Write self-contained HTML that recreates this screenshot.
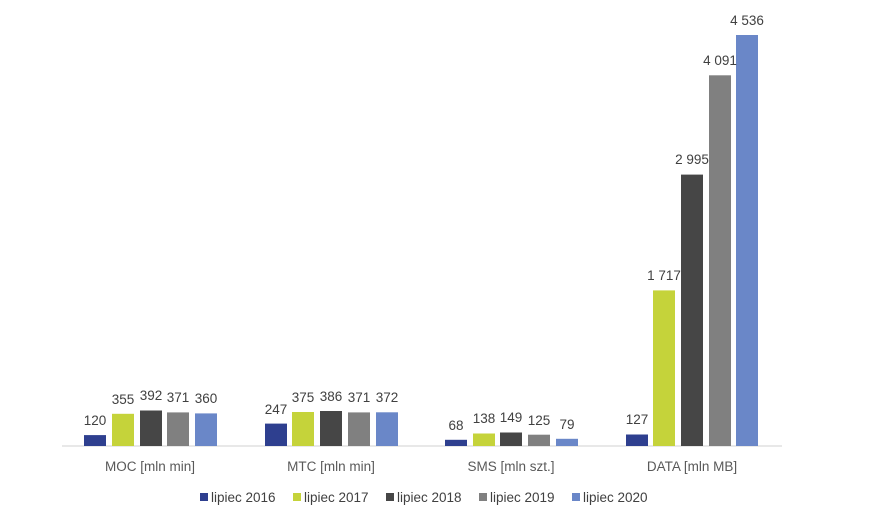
<!DOCTYPE html>
<html><head><meta charset="utf-8"><style>
html,body{margin:0;padding:0;background:#fff;}
svg{display:block;font-family:"Liberation Sans",sans-serif;}
.v{font-size:13.5px;fill:#404040;text-anchor:middle;}
.c{font-size:13.5px;fill:#595959;text-anchor:middle;}
.l{font-size:13.5px;fill:#404040;}
</style></head><body>
<svg width="870" height="524" viewBox="0 0 870 524">
<line x1="62" y1="446" x2="782" y2="446" stroke="#d0d0d0" stroke-width="1"/>
<g id="bars">
<rect x="84" y="435.1" width="22" height="10.9" fill="#2e3f8f"/>
<rect x="112" y="413.8" width="22" height="32.2" fill="#c5d33a"/>
<rect x="140" y="410.5" width="22" height="35.5" fill="#464646"/>
<rect x="167" y="412.4" width="22" height="33.6" fill="#808080"/>
<rect x="195" y="413.4" width="22" height="32.6" fill="#6a87c8"/>
<rect x="265" y="423.6" width="22" height="22.4" fill="#2e3f8f"/>
<rect x="292" y="412" width="22" height="34" fill="#c5d33a"/>
<rect x="320" y="411" width="22" height="35" fill="#464646"/>
<rect x="348" y="412.4" width="22" height="33.6" fill="#808080"/>
<rect x="376" y="412.3" width="22" height="33.7" fill="#6a87c8"/>
<rect x="445" y="439.8" width="22" height="6.2" fill="#2e3f8f"/>
<rect x="473" y="433.5" width="22" height="12.5" fill="#c5d33a"/>
<rect x="500" y="432.5" width="22" height="13.5" fill="#464646"/>
<rect x="528" y="434.7" width="22" height="11.3" fill="#808080"/>
<rect x="556" y="438.8" width="22" height="7.2" fill="#6a87c8"/>
<rect x="626" y="434.5" width="22" height="11.5" fill="#2e3f8f"/>
<rect x="653" y="290.4" width="22" height="155.6" fill="#c5d33a"/>
<rect x="681" y="174.6" width="22" height="271.4" fill="#464646"/>
<rect x="709" y="75.3" width="22" height="370.7" fill="#808080"/>
<rect x="736" y="35" width="22" height="411" fill="#6a87c8"/>
</g>
<g class="v">
<text x="95" y="425">120</text><text x="123" y="404">355</text><text x="151" y="400">392</text><text x="178" y="402">371</text><text x="206" y="403">360</text>
<text x="276" y="414">247</text><text x="303" y="402">375</text><text x="331" y="401">386</text><text x="359" y="402">371</text><text x="387" y="402">372</text>
<text x="456" y="430">68</text><text x="484" y="423">138</text><text x="511" y="422">149</text><text x="539" y="425">125</text><text x="567" y="429">79</text>
<text x="637" y="424">127</text><text x="664" y="280">1 717</text><text x="692" y="164">2 995</text><text x="720" y="65">4 091</text><text x="747" y="25">4 536</text>
</g>
<g class="c">
<text x="150" y="471">MOC [mln min]</text>
<text x="331" y="471">MTC [mln min]</text>
<text x="511" y="471">SMS [mln szt.]</text>
<text x="692" y="471">DATA [mln MB]</text>
</g>
<g class="l">
<rect x="200" y="493" width="8" height="8" fill="#2e3f8f"/><text x="211" y="502">lipiec 2016</text>
<rect x="293" y="493" width="8" height="8" fill="#c5d33a"/><text x="304" y="502">lipiec 2017</text>
<rect x="386" y="493" width="8" height="8" fill="#464646"/><text x="397" y="502">lipiec 2018</text>
<rect x="479" y="493" width="8" height="8" fill="#808080"/><text x="490" y="502">lipiec 2019</text>
<rect x="572" y="493" width="8" height="8" fill="#6a87c8"/><text x="583" y="502">lipiec 2020</text>
</g>
</svg>
</body></html>
